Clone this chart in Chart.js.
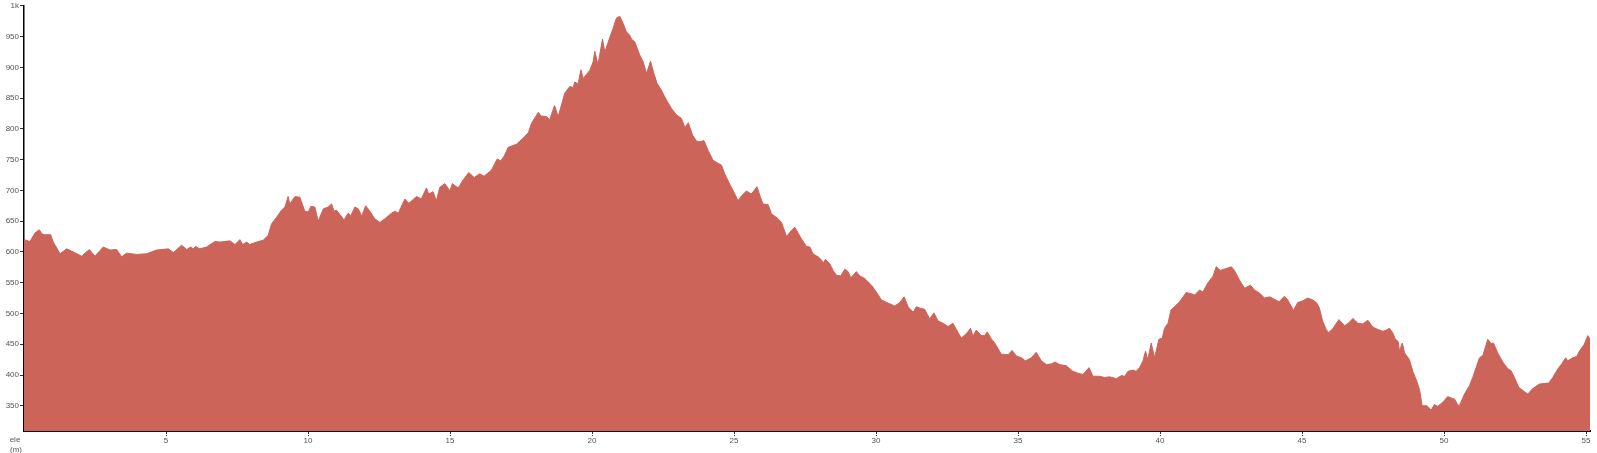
<!DOCTYPE html>
<html>
<head>
<meta charset="utf-8">
<title>Elevation profile</title>
<script src="https://cdn.jsdelivr.net/npm/chart.js@4.4.1/dist/chart.umd.min.js"></script>
<style>
  html, body { margin: 0; padding: 0; background: #fff; }
  #wrap { width: 1597px; height: 453px; position: relative; }
</style>
</head>
<body>
<div id="wrap"><canvas id="elevationChart" width="1597" height="453"></canvas></div>
<script>
// distance along the track (km) and elevation (m)
const distanceKm = [
  0, 0.21, 0.39, 0.54, 0.62, 0.70, 0.94, 1.03, 1.27, 1.50, 1.74, 2.03, 2.30, 2.50, 2.79, 3.03,
  3.26, 3.44, 3.61, 3.97, 4.32, 4.67, 5.08, 5.26, 5.55, 5.73, 5.87, 5.96, 6.04, 6.19, 6.43, 6.72,
  6.90, 7.25, 7.43, 7.60, 7.70, 7.84, 7.95, 8.19, 8.42, 8.60, 8.72, 8.89, 9.07, 9.19, 9.30, 9.36,
  9.54, 9.71, 9.89, 10.01, 10.10, 10.24, 10.36, 10.54, 10.71, 10.83, 10.92, 11.00, 11.27, 11.41, 11.51, 11.65,
  11.77, 11.89, 12.03, 12.18, 12.35, 12.53, 12.71, 12.94, 13.06, 13.18, 13.41, 13.55, 13.82, 13.99, 14.17, 14.25,
  14.40, 14.52, 14.64, 14.82, 15.00, 15.08, 15.29, 15.46, 15.66, 15.85, 16.05, 16.20, 16.46, 16.66, 16.79, 16.91,
  17.05, 17.34, 17.58, 17.76, 17.87, 18.11, 18.20, 18.40, 18.51, 18.68, 18.81, 19.04, 19.22, 19.34, 19.39, 19.51,
  19.61, 19.69, 19.92, 20.04, 20.10, 20.21, 20.37, 20.45, 20.63, 20.74, 20.86, 20.98, 21.10, 21.21, 21.33, 21.39,
  21.51, 21.59, 21.68, 21.80, 21.92, 22.06, 22.18, 22.29, 22.44, 22.62, 22.80, 22.97, 23.15, 23.27, 23.39, 23.54,
  23.68, 23.80, 23.94, 24.09, 24.26, 24.44, 24.56, 24.67, 24.85, 25.03, 25.14, 25.26, 25.44, 25.61, 25.81, 25.93,
  26.02, 26.20, 26.32, 26.55, 26.67, 26.85, 27.02, 27.14, 27.34, 27.55, 27.67, 27.78, 27.96, 28.08, 28.14, 28.22,
  28.37, 28.49, 28.61, 28.76, 28.90, 29.02, 29.11, 29.31, 29.43, 29.60, 29.84, 30.01, 30.19, 30.42, 30.66, 30.84,
  30.99, 31.13, 31.31, 31.42, 31.58, 31.71, 31.89, 32.04, 32.18, 32.36, 32.54, 32.71, 32.83, 33.00, 33.18, 33.33,
  33.41, 33.53, 33.71, 33.82, 33.92, 34.04, 34.18, 34.41, 34.65, 34.79, 34.94, 35.12, 35.26, 35.47, 35.64, 35.82,
  36.00, 36.17, 36.31, 36.46, 36.70, 36.93, 37.11, 37.28, 37.35, 37.50, 37.64, 37.87, 38.05, 38.23, 38.46, 38.64,
  38.76, 38.87, 39.05, 39.16, 39.28, 39.40, 39.49, 39.57, 39.69, 39.81, 39.96, 40.08, 40.16, 40.28, 40.39, 40.51,
  40.69, 40.92, 41.10, 41.22, 41.39, 41.51, 41.69, 41.86, 41.98, 42.12, 42.33, 42.51, 42.62, 42.80, 42.98, 43.18,
  43.33, 43.51, 43.68, 43.86, 44.03, 44.19, 44.38, 44.50, 44.70, 44.85, 45.00, 45.20, 45.38, 45.52, 45.61, 45.73,
  45.85, 45.94, 46.08, 46.30, 46.50, 46.65, 46.79, 46.97, 47.14, 47.32, 47.49, 47.67, 47.85, 47.97, 48.08, 48.20,
  48.29, 48.38, 48.43, 48.53, 48.61, 48.78, 48.90, 49.04, 49.14, 49.23, 49.40, 49.55, 49.66, 49.78, 49.96, 50.13,
  50.29, 50.37, 50.49, 50.55, 50.72, 50.90, 51.01, 51.13, 51.25, 51.37, 51.54, 51.66, 51.74, 51.89, 52.07, 52.25,
  52.36, 52.48, 52.63, 52.80, 52.95, 53.10, 53.34, 53.48, 53.69, 53.83, 54.01, 54.16, 54.28, 54.36, 54.53, 54.67,
  54.77, 54.94, 55.06, 55.14
];

const elevationM = [
  620, 617, 631, 636, 630, 628, 628, 616, 597, 605, 600, 593, 604, 593, 608, 603,
  604, 592, 598, 596, 597, 603, 605, 599, 611, 604, 608, 605, 609, 605, 608, 617,
  616, 618, 612, 620, 612, 616, 612, 616, 619, 627, 646, 656, 668, 673, 690, 678,
  690, 689, 666, 665, 674, 673, 650, 670, 673, 678, 666, 668, 652, 663, 659, 673,
  670, 658, 675, 666, 654, 648, 654, 663, 666, 663, 686, 679, 690, 686, 704, 694,
  698, 683, 705, 711, 699, 711, 704, 717, 729, 721, 727, 723, 733, 751, 748, 756,
  770, 775, 785, 794, 809, 827, 821, 820, 815, 838, 820, 858, 869, 867, 876, 873,
  896, 882, 895, 909, 926, 904, 946, 925, 949, 963, 980, 983, 971, 958, 952, 946,
  941, 931, 920, 909, 890, 910, 890, 874, 863, 847, 833, 823, 817, 802, 810, 790,
  780, 779, 781, 765, 749, 744, 741, 727, 710, 694, 683, 691, 699, 694, 706, 689,
  678, 677, 662, 654, 648, 625, 635, 640, 624, 609, 608, 597, 592, 587, 582, 588,
  581, 570, 562, 561, 572, 568, 558, 568, 561, 557, 546, 535, 522, 517, 512, 518,
  527, 511, 502, 511, 508, 507, 491, 501, 488, 484, 479, 484, 474, 460, 467, 476,
  463, 473, 464, 464, 470, 460, 452, 434, 433, 440, 431, 428, 423, 428, 437, 423,
  417, 418, 421, 417, 415, 406, 403, 401, 404, 412, 398, 398, 396, 397, 394, 399,
  398, 406, 408, 406, 412, 423, 439, 425, 452, 428, 458, 460, 476, 484, 506, 511,
  519, 534, 532, 530, 538, 535, 550, 560, 576, 570, 573, 576, 570, 554, 541, 546,
  538, 533, 525, 527, 523, 519, 528, 522, 505, 518, 520, 525, 522, 517, 509, 487,
  474, 469, 475, 490, 480, 485, 492, 484, 483, 489, 478, 474, 471, 473, 476, 468,
  458, 455, 439, 452, 436, 425, 406, 390, 376, 350, 350, 343, 352, 349, 356, 365,
  362, 361, 351, 351, 369, 383, 396, 412, 428, 432, 458, 451, 452, 436, 421, 410,
  407, 396, 380, 374, 369, 377, 385, 386, 387, 396, 410, 419, 428, 423, 428, 430,
  439, 450, 464, 458
];

const yTickValues = [350, 400, 450, 500, 550, 600, 650, 700, 750, 800, 850, 900, 950, 1000];
const xTickValues = [5, 10, 15, 20, 25, 30, 35, 40, 45, 50, 55];

const ProfileStyle = {
  fill: '#cd645a',
  tickText: '#555',
  axisLine: '#111',
  font: { family: '"Liberation Sans", Arial, sans-serif', size: 8 }
};

// "ele (m)" caption in the bottom-left corner
const axisCaption = {
  id: 'axisCaption',
  afterDraw(chart) {
    const ctx = chart.ctx;
    ctx.save();
    ctx.fillStyle = ProfileStyle.tickText;
    ctx.font = `${ProfileStyle.font.size}px ${ProfileStyle.font.family}`;
    ctx.textAlign = 'center';
    ctx.textBaseline = 'middle';
    ctx.fillText('ele', 15, 440);
    ctx.fillText('(m)', 16, 450);
    ctx.restore();
  }
};

const points = distanceKm.map((d, i) => ({ x: d, y: elevationM[i] }));

new Chart(document.getElementById('elevationChart'), {
  type: 'line',
  data: {
    datasets: [{
      label: 'ele',
      data: points,
      backgroundColor: ProfileStyle.fill,
      borderColor: ProfileStyle.fill,
      borderWidth: 1,
      pointRadius: 0,
      tension: 0,
      fill: 'start'
    }]
  },
  options: {
    responsive: false,
    animation: false,
    layout: { padding: { top: 5, right: 7, left: 0, bottom: 0 } },
    plugins: {
      legend: { display: false },
      tooltip: { enabled: false }
    },
    scales: {
      x: {
        type: 'linear',
        min: 0,
        max: 55.14,
        afterFit(scale) { scale.height = 22; },
        afterBuildTicks(scale) {
          scale.ticks = xTickValues.map(v => ({ value: v }));
        },
        border: { color: ProfileStyle.axisLine, width: 2 },
        grid: {
          drawOnChartArea: false,
          drawTicks: true,
          tickLength: 5,
          tickColor: '#333',
          tickBorderDash: [2, 1]
        },
        ticks: {
          autoSkip: false,
          maxRotation: 0,
          padding: 0,
          color: ProfileStyle.tickText,
          font: ProfileStyle.font
        }
      },
      y: {
        min: 309,
        max: 1000,
        afterFit(scale) { scale.width = 24; },
        afterBuildTicks(scale) {
          scale.ticks = yTickValues.map(v => ({ value: v }));
        },
        border: { color: '#000', width: 1.5 },
        grid: {
          drawOnChartArea: false,
          drawTicks: true,
          tickLength: 4,
          tickColor: '#333'
        },
        ticks: {
          autoSkip: false,
          padding: 1,
          color: ProfileStyle.tickText,
          font: ProfileStyle.font,
          callback: v => (v === 1000 ? '1k' : v)
        }
      }
    }
  },
  plugins: [axisCaption]
});
</script>
</body>
</html>
